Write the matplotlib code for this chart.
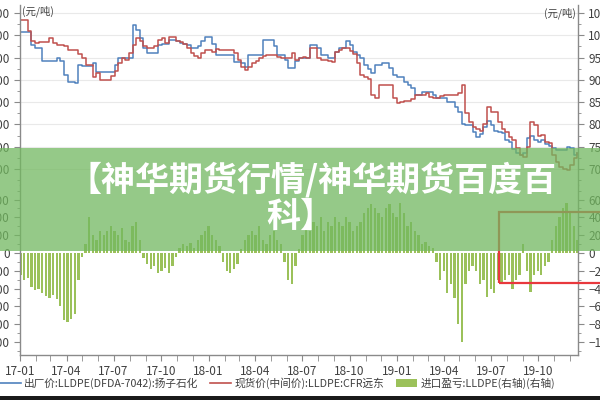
import matplotlib
matplotlib.use('Agg')
import matplotlib.pyplot as plt
import matplotlib.dates as mdates
from matplotlib.ticker import AutoMinorLocator
from matplotlib.patches import Rectangle, Patch
from matplotlib.lines import Line2D
import pandas as pd

plt.rcParams['font.family'] = ['Noto Sans CJK SC', 'DejaVu Sans']

# ---------------- data (weekly) ----------------
week_start = '2017-01-02'
n_weeks = 155

ex_factory = [10070, 10070, 10070, 9780, 9710, 9710, 9420, 9420, 9420, 9420,
              9500, 9420, 9110, 8950, 8950, 8930, 9340, 9320, 9320, 9320,
              9380, 9180, 9180, 9180, 9180, 9180, 9330, 9490, 9490, 9490,
              9490, 10230, 10120, 9940, 9710, 9600, 9600, 9600, 9780, 9800,
              9800, 9900, 9900, 9870, 9830, 9800, 9780, 9710, 9710, 9750,
              9870, 9960, 9960, 9800, 9560, 9560, 9560, 9560, 9560, 9400,
              9400, 9380, 9300, 9560, 9560, 9560, 9560, 9900, 9900, 9900,
              9770, 9560, 9560, 9450, 9270, 9270, 9420, 9490, 9490, 9490,
              9780, 9780, 9710, 9560, 9560, 9490, 9490, 9630, 9710, 9710,
              9870, 9780, 9630, 9560, 9490, 9330, 9250, 9160, 9330, 9330,
              9380, 9380, 9270, 9110, 9060, 9060, 8950, 8880, 8820, 8660,
              8660, 8730, 8730, 8730, 8660, 8600, 8600, 8600, 8500, 8500,
              8400, 8280, 8000, 7990, 7990, 7830, 7720, 7780, 7950, 8080,
              7990, 7850, 7820, 7800, 7650, 7600, 7450, 7360, 7320, 7360,
              7700, 7730, 7650, 7610, 7650, 7560, 7520, 7480, 7430, 7430,
              7430, 7500, 7470, 7320, 7360]

spot_cfr = [10340, 10340, 10100, 9870, 9830, 9850, 9850, 9850, 9940, 9830,
            9790, 9790, 9750, 9670, 9670, 9670, 9580, 9490, 9330, 9330,
            9060, 9150, 9000, 9000, 9000, 9080, 9200, 9380, 9490, 9450,
            9600, 9780, 9940, 9880, 9760, 9710, 9710, 9750, 9900, 9940,
            9830, 9960, 9960, 9880, 9850, 9800, 9720, 9600, 9540, 9490,
            9600, 9670, 9670, 9630, 9700, 9670, 9670, 9670, 9670, 9600,
            9450, 9300, 9220, 9290, 9370, 9430, 9500, 9530, 9560, 9560,
            9560, 9510, 9500, 9490, 9490, 9600, 9440, 9490, 9510, 9480,
            9710, 9710, 9490, 9450, 9450, 9420, 9400, 9630, 9680, 9710,
            9710, 9650, 9580, 9380, 9110, 9060, 9020, 8660, 8600, 8880,
            8880, 8880, 8880, 8600, 8490, 8510, 8530, 8530, 8580, 8660,
            8670, 8670, 8700, 8620, 8600, 8600, 8630, 8670, 8660, 8660,
            8660, 8700, 8890, 8250, 8050, 7940, 7900, 7850, 8000, 8390,
            8280, 8280, 8060, 7900, 7830, 7720, 7650, 7480, 7320, 7280,
            7500, 8060, 7980, 7750, 7760, 7610, 7580, 7320, 7150, 7050,
            7000, 6980, 7100, 7250, 7360]

import_margin = [-250, -300, -280, -380, -420, -400, -450, -480, -500, -470,
                 -520, -600, -750, -780, -740, -680, -300, -50, 100, 400,
                 200, 150, 250, 200, 250, 300, 250, 200, 280, 150,
                 120, 300, 350, 150, -60, -120, -180, -150, -220, -200,
                 -170, -220, -150, -40, 60, 100, 80, 110, 60, 150,
                 200, 250, 300, 200, 150, 80, -100, -200, -230, -180,
                 -120, 50, 150, 200, 250, 200, 300, 150, 100, 200,
                 250, 150, 100, -100, -300, -350, -150, 50, 200, 300,
                 250, 350, 300, 400, 250, 350, 300, 400, 350, 300,
                 400, 350, 250, 300, 350, 450, 500, 550, 500, 450,
                 400, 500, 550, 450, 400, 560, 450, 300, 350, 250,
                 200, 100, 120, 80, 60, -100, -300, -200, -450, -350,
                 -500, -800, -1000, -350, -200, -150, -200, -350, -300, -490,
                 -400, -450, -300, -350, -300, -250, -400, -300, -250, 100,
                 -200, -440, -250, -200, -250, -150, -100, 150, 300, 400,
                 500, 560, 450, 300, 150]

price_ticks = [7000, 7500, 8000, 8500, 9000, 9500, 10000, 10500]
margin_ticks = [-1000, -800, -600, -400, -200, 0, 200, 400, 600]

legend_labels = ['出厂价:LLDPE(DFDA-7042):扬子石化',
                 '现货价(中间价):LLDPE:CFR远东',
                 '进口盈亏:LLDPE(右轴)(右轴)']
banner_lines = ['【神华期货行情/神华期货百度百', '科】']
unit_label = '(元/吨)'

# ---------------- styling ----------------
BLUE = '#4F81BD'
RED = '#C0504D'
GREEN = '#9BC15A'
AXC = '#8a8a8a'
TXT = '#404040'

dates = pd.date_range(week_start, periods=n_weeks, freq='7D')
x0, x1 = pd.Timestamp('2017-01-01'), pd.Timestamp('2019-12-17')

fig = plt.figure(figsize=(6, 4), dpi=100)
L, R = 20 / 600, 578 / 600
ax_top = fig.add_axes([L, 1 - 185 / 400, R - L, 180 / 400])
ax_bot = fig.add_axes([L, 1 - 355 / 400, R - L, 170 / 400], sharex=ax_top)

ax_top.plot(dates, ex_factory, color=BLUE, lw=1.1, drawstyle='steps-post')
ax_top.plot(dates, spot_cfr, color=RED, lw=1.1, drawstyle='steps-post')
ax_top.set_ylim(6641, 10680)
ax_top.set_yticks(price_ticks)
ax_top.yaxis.set_minor_locator(AutoMinorLocator(2))
ax_top.grid(axis='y', color='#e9e9e9', lw=0.8)
ax_top.set_axisbelow(True)

ax_bot.bar(dates, import_margin, width=4.5, color=GREEN, linewidth=0)
ax_bot.set_ylim(-1146, 764)
ax_bot.set_yticks(margin_ticks)
ax_bot.yaxis.set_minor_locator(AutoMinorLocator(2))

ax_bot.set_xlim(x0, x1)
ax_bot.xaxis.set_major_locator(mdates.MonthLocator(bymonth=[1, 4, 7, 10]))
ax_bot.xaxis.set_minor_locator(mdates.MonthLocator())
ax_bot.xaxis.set_major_formatter(mdates.DateFormatter('%y-%m'))

for ax in (ax_top, ax_bot):
    for s in ('left', 'right', 'top', 'bottom'):
        ax.spines[s].set_color(AXC)
        ax.spines[s].set_linewidth(1.0)
    ax.spines['top'].set_visible(False)
    ax.tick_params(axis='y', which='both', left=True, right=True,
                   labelleft=True, labelright=True, direction='out',
                   color=AXC, labelcolor=TXT, labelsize=8.5)
    ax.tick_params(axis='y', which='major', length=4)
    ax.tick_params(axis='y', which='minor', length=2)
ax_top.spines['bottom'].set_visible(False)
ax_top.tick_params(axis='x', which='both', bottom=False, labelbottom=False)
ax_bot.tick_params(axis='x', which='both', direction='out', color=AXC,
                   labelcolor=TXT, labelsize=8.5, length=4, pad=3)

# unit labels
fig.text(22 / 600, 1 - 11 / 400, unit_label, fontsize=7.5, color=TXT,
         ha='left', va='center')
fig.text(576 / 600, 1 - 13 / 400, unit_label, fontsize=7.5, color=TXT,
         ha='right', va='center')

# red highlight box (annotation), below banner
bx0 = mdates.date2num(pd.Timestamp('2019-07-18'))
bx1 = mdates.date2num(pd.Timestamp('2020-02-20'))
box = Rectangle((bx0, -337), bx1 - bx0, 797, fill=False,
                edgecolor='#E8383D', lw=1.6, clip_on=False, zorder=6)
ax_bot.add_patch(box)

# legend
handles = [Line2D([], [], color=BLUE, lw=1.2),
           Line2D([], [], color=RED, lw=1.2),
           Patch(facecolor=GREEN, edgecolor='none')]
fig.legend(handles, legend_labels, loc='center', bbox_to_anchor=(0.462, 1 - 383 / 400),
           ncol=3, frameon=False, fontsize=7.7, handlelength=2.0,
           columnspacing=1.1, handletextpad=0.3, labelcolor=TXT)

# banner overlay
fig.add_artist(Rectangle((0, 1 - 251 / 400), 1, 103 / 400,
                         transform=fig.transFigure, facecolor='#72b860',
                         alpha=0.75, edgecolor='none', zorder=10))
fig.text(0.52, 1 - 180 / 400, banner_lines[0], fontsize=24.5, fontweight='bold',
         color='white', ha='center', va='center', zorder=11)
fig.text(0.5, 1 - 216 / 400, banner_lines[1], fontsize=24.5, fontweight='bold',
         color='white', ha='center', va='center', zorder=11)

# bottom dark strip
fig.add_artist(Rectangle((0, 0), 1, 4 / 400, transform=fig.transFigure,
                         facecolor='#1a1a1a', edgecolor='none', zorder=10))

fig.savefig('out.png', dpi=100)
